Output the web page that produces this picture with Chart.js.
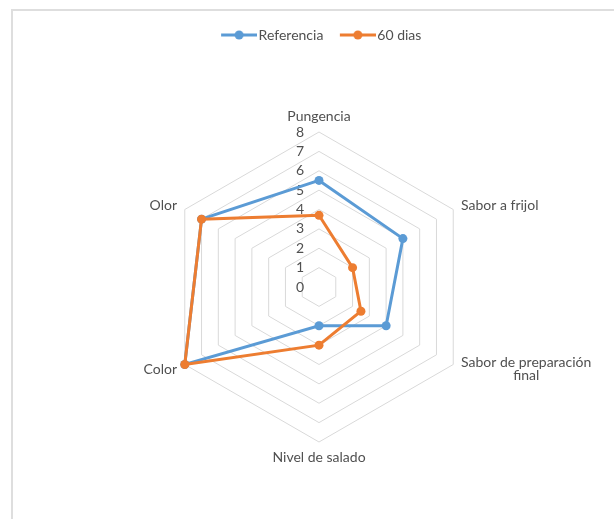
<!DOCTYPE html>
<html>
<head>
<meta charset="utf-8">
<script src="https://cdn.jsdelivr.net/npm/chart.js@4.4.1/dist/chart.umd.min.js"></script>
<style>
  html, body { margin: 0; padding: 0; background: #fff; overflow: hidden; }
  #wrap { position: relative; width: 614px; height: 519px; overflow: hidden; }
  #frame { position: absolute; left: 11px; top: 9px; width: 700px; height: 600px;
           border-top: 2px solid #dedede; border-left: 2px solid #dedede; }
  #radar { position: absolute; left: 0; top: 0; }
</style>
</head>
<body>
<div id="wrap">
  <div id="frame"></div>
  <canvas id="radar" width="614" height="522"></canvas>
</div>
<script>
const categories = ['Pungencia', 'Sabor a frijol', ['Sabor de preparación', 'final'], 'Nivel de salado', 'Color', 'Olor'];
const referencia = [5.5, 5.0, 4.0, 2.0, 8.0, 7.0];
const dias60 = [3.7, 2.0, 2.5, 3.0, 8.0, 7.0];
const seriesNames = ['Referencia', '60 dias'];
const seriesColors = ['#5B9BD5', '#ED7D31'];
const tickValues = [0, 1, 2, 3, 4, 5, 6, 7, 8];

const textColor = '#505050';
const textFont = '14px Lato';

Chart.defaults.font.family = 'Lato';
Chart.defaults.font.size = 14;
Chart.defaults.color = textColor;

// line-with-marker icon like the Excel legend
function legendIcon(color) {
    const c = document.createElement('canvas');
    c.width = 46;
    c.height = 12;
    const g = c.getContext('2d');
    g.strokeStyle = color;
    g.lineWidth = 3;
    g.beginPath();
    g.moveTo(10, 6);
    g.lineTo(46, 6);
    g.stroke();
    g.fillStyle = color;
    g.beginPath();
    g.arc(28, 6, 4.5, 0, Math.PI * 2);
    g.fill();
    return c;
}
const legendIcons = seriesColors.map(legendIcon);

// tick numbers left of the vertical axis and category names outside the hexagon
const radarText = {
    id: 'radarText',
    beforeDatasetsDraw(chart) {
        const scale = chart.scales.r;
        const ctx = chart.ctx;
        ctx.save();
        ctx.font = textFont;
        ctx.fillStyle = textColor;
        ctx.textBaseline = 'middle';
        ctx.textAlign = 'center';

        scale.ticks.forEach(t => {
            const d = scale.getDistanceFromCenterForValue(t.value);
            ctx.fillText(t.label, scale.xCenter - 19, scale.yCenter - d);
        });

        const lineH = 13.5;
        categories.forEach((label, i) => {
            const lines = Array.isArray(label) ? label : [label];
            const p = scale.getPointPosition(i, scale.drawingArea + 9);
            const w = Math.max(...lines.map(l => ctx.measureText(l).width));
            const h = lines.length * lineH;
            const dx = p.x - scale.xCenter;
            let left, top;
            if (Math.abs(dx) < 1) {
                left = p.x - w / 2;
                top = p.y < scale.yCenter ? p.y - h : p.y;
            } else {
                left = dx > 0 ? p.x : p.x - w;
                top = p.y - h / 2;
            }
            lines.forEach((l, k) => ctx.fillText(l, left + w / 2, top + lineH * (k + 0.5)));
        });
        ctx.restore();
    }
};

const ctx = document.getElementById('radar').getContext('2d');
new Chart(ctx, {
    type: 'radar',
    data: {
        labels: categories,
        datasets: [{
            label: seriesNames[0],
            data: referencia,
            borderColor: seriesColors[0],
            backgroundColor: seriesColors[0],
            pointBackgroundColor: seriesColors[0],
            borderWidth: 3,
            pointRadius: 4.5,
            pointBorderWidth: 0,
            fill: false,
            order: 1
        }, {
            label: seriesNames[1],
            data: dias60,
            borderColor: seriesColors[1],
            backgroundColor: seriesColors[1],
            pointBackgroundColor: seriesColors[1],
            borderWidth: 3,
            pointRadius: 4.5,
            pointBorderWidth: 0,
            fill: false,
            order: 0
        }]
    },
    options: {
        responsive: false,
        animation: false,
        devicePixelRatio: 1,
        layout: { padding: { top: 16, left: 164, right: 140, bottom: 0 } },
        elements: { line: { tension: 0 } },
        scales: {
            r: {
                min: tickValues[0],
                max: tickValues[tickValues.length - 1],
                ticks: { display: false, stepSize: 1 },
                pointLabels: { display: false },
                grid: { color: '#d9d9d9', lineWidth: 1 },
                angleLines: { display: false }
            }
        },
        plugins: {
            tooltip: { enabled: false },
            legend: {
                position: 'top',
                labels: {
                    color: textColor,
                    font: { size: 14 },
                    usePointStyle: true,
                    pointStyleWidth: 35,
                    padding: 12,
                    sort: (a, b) => a.datasetIndex - b.datasetIndex,
                    generateLabels(chart) {
                        const items = Chart.defaults.plugins.legend.labels.generateLabels(chart);
                        items.forEach(it => { it.pointStyle = legendIcons[it.datasetIndex]; });
                        return items;
                    }
                }
            }
        }
    },
    plugins: [radarText]
});
</script>
</body>
</html>
